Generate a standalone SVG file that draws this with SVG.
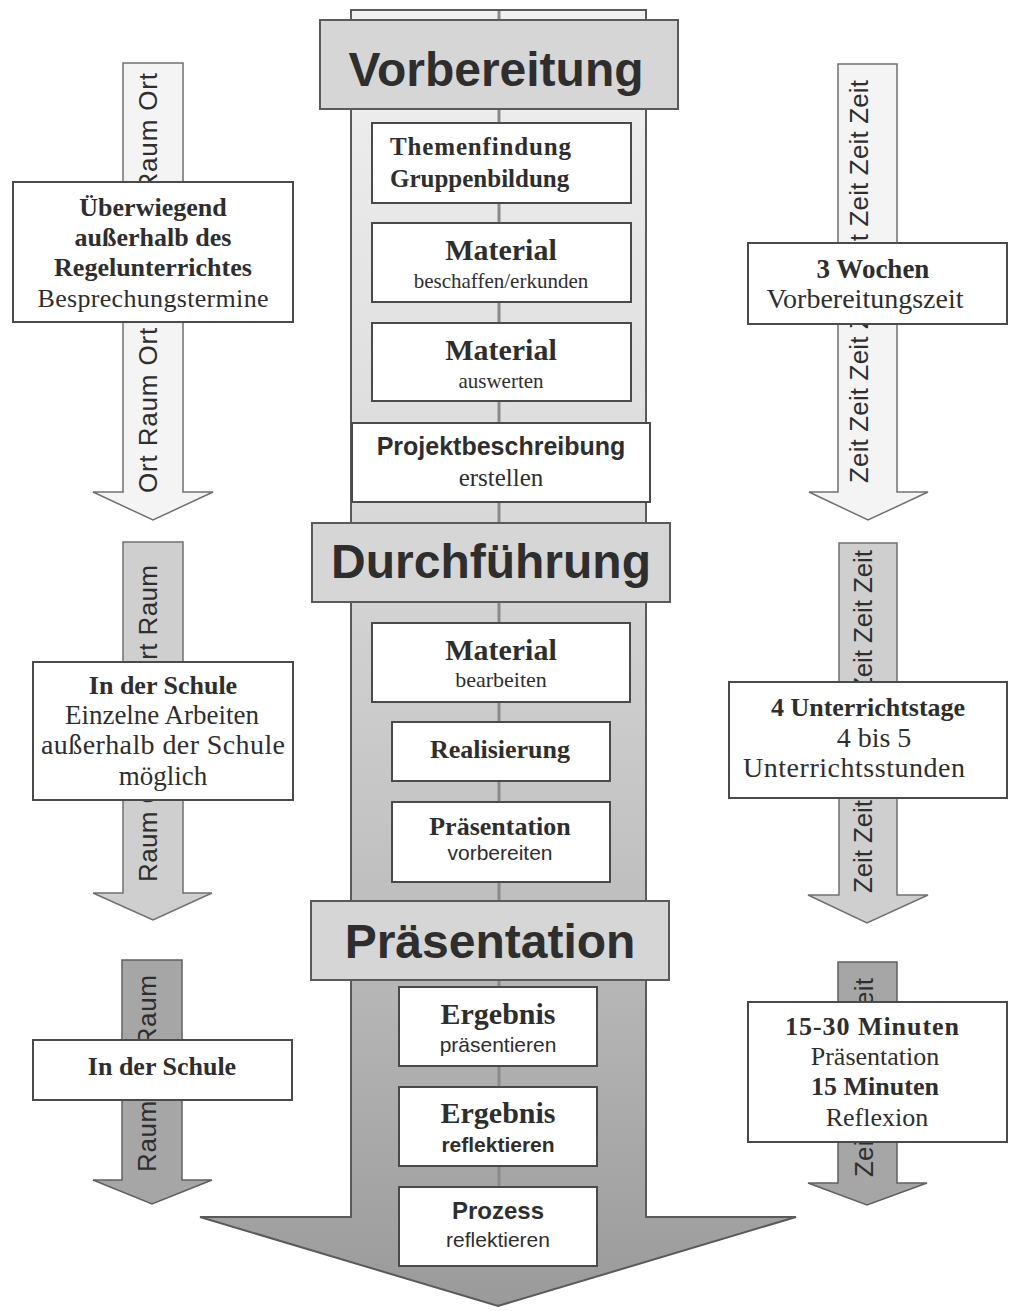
<svg xmlns="http://www.w3.org/2000/svg" width="1014" height="1311" viewBox="0 0 1014 1311">
<defs>
<linearGradient id="shaftGrad" gradientUnits="userSpaceOnUse" x1="0" y1="10" x2="0" y2="1307">
<stop offset="0" stop-color="#f1f1f1"/>
<stop offset="0.35" stop-color="#dcdcdc"/>
<stop offset="0.65" stop-color="#c2c2c2"/>
<stop offset="1" stop-color="#9a9a9a"/>
</linearGradient>
<style>
.bg{fill:#ffffff}
.shaft{fill:url(#shaftGrad);stroke:#5a5a5a;stroke-width:2}
.cline{stroke:#8a8a8a;stroke-width:3}
.hdr{fill:#d6d6d6;stroke:#5a5a5a;stroke-width:2}
.box{fill:#ffffff;stroke:#4a4a4a;stroke-width:2}
.a1{fill:#f4f4f4;stroke:#707070;stroke-width:1.5}
.a2{fill:#cfcfcf;stroke:#707070;stroke-width:1.5}
.a3{fill:#a6a6a6;stroke:#606060;stroke-width:1.5}
text{fill:#2e2e2e}
.h{font-family:"Liberation Sans",Arial,sans-serif;font-weight:bold;font-size:48px;text-anchor:middle}
.sb{font-family:"Liberation Serif","Times New Roman",serif;font-weight:bold;text-anchor:middle}
.sr{font-family:"Liberation Serif","Times New Roman",serif;text-anchor:middle}
.ab{font-family:"Liberation Sans",Arial,sans-serif;font-weight:bold;text-anchor:middle}
.ar{font-family:"Liberation Sans",Arial,sans-serif;text-anchor:middle}
.side{font-size:26px}
.rot{font-family:"Liberation Sans",Arial,sans-serif;font-size:26px}
</style>
</defs>
<rect class="bg" x="0" y="0" width="1014" height="1311"/>

<g id="connectors">
<g id="main-arrow">
<path class="shaft" d="M351,10 H646 V1217 H796 L498,1306 L200,1217 H351 Z"/>
<line class="cline" x1="499" y1="11" x2="499" y2="1188"/>
</g>
<g id="raum-arrow-1">
<path class="a1" d="M123,63 H183 V492 H213 L153,520 L93,492 H123 Z"/>
<text class="rot" transform="translate(157,493) rotate(-90)" textLength="420" lengthAdjust="spacing">Ort Raum Ort Raum Ort Raum Ort</text>
</g>
<g id="raum-arrow-2">
<path class="a2" d="M123,542 H183 V893 H212 L153,920 L93,893 H123 Z"/>
<text class="rot" transform="translate(157,882) rotate(-90)" textLength="317" lengthAdjust="spacing">Raum Ort Raum Ort Raum</text>
</g>
<g id="raum-arrow-3">
<path class="a3" d="M122,960 H182 V1180 H212 L152,1204 L93,1180 H122 Z"/>
<text class="rot" transform="translate(156,1172) rotate(-90)" textLength="197" lengthAdjust="spacing">Raum Ort Raum</text>
</g>
<g id="zeit-arrow-1">
<path class="a1" d="M838,64 H897 V492 H928 L868,520 L809,492 H838 Z"/>
<text class="rot" transform="translate(868,483) rotate(-90)" textLength="403" lengthAdjust="spacing">Zeit Zeit Zeit Zeit Zeit Zeit Zeit Zeit</text>
</g>
<g id="zeit-arrow-2">
<path class="a2" d="M839,543 H897 V895 H928 L867,923 L808,895 H839 Z"/>
<text class="rot" transform="translate(872,893) rotate(-90)" textLength="343" lengthAdjust="spacing">Zeit Zeit Zeit Zeit Zeit Zeit Zeit</text>
</g>
<g id="zeit-arrow-3">
<path class="a3" d="M838,962 H897 V1183 H927 L867,1205 L808,1183 H838 Z"/>
<text class="rot" transform="translate(873,1177) rotate(-90)" textLength="199" lengthAdjust="spacing">Zeit Zeit Zeit Zeit</text>
</g>
</g>

<g id="vorbereitung">
<rect class="hdr" x="320" y="20" width="358" height="89"/>
<text class="h" x="496" y="86">Vorbereitung</text>
</g>
<g id="themenfindung">
<rect class="box" x="372" y="123" width="259" height="80"/>
<text class="sb" x="390" y="155" font-size="25" style="text-anchor:start" textLength="181">Themenfindung</text>
<text class="sb" x="390" y="187" font-size="25" style="text-anchor:start">Gruppenbildung</text>
</g>
<g id="material-beschaffen">
<rect class="box" x="372" y="223" width="259" height="79"/>
<text class="sb" x="501" y="260" font-size="30">Material</text>
<text class="sr" x="501" y="288" font-size="21">beschaffen/erkunden</text>
</g>
<g id="material-auswerten">
<rect class="box" x="372" y="323" width="259" height="78"/>
<text class="sb" x="501" y="360" font-size="30">Material</text>
<text class="sr" x="501" y="388" font-size="21">auswerten</text>
</g>
<g id="projektbeschreibung">
<rect class="box" x="352" y="423" width="298" height="79"/>
<text class="ab" x="501" y="455" font-size="25">Projektbeschreibung</text>
<text class="sr" x="501" y="486" font-size="25">erstellen</text>
</g>
<g id="durchfuehrung">
<rect class="hdr" x="312" y="523" width="358" height="79"/>
<text class="h" x="491" y="578">Durchführung</text>
</g>
<g id="material-bearbeiten">
<rect class="box" x="372" y="623" width="258" height="79"/>
<text class="sb" x="501" y="660" font-size="30">Material</text>
<text class="sr" x="501" y="687" font-size="22">bearbeiten</text>
</g>
<g id="realisierung">
<rect class="box" x="392" y="722" width="218" height="59"/>
<text class="sb" x="500" y="758" font-size="26">Realisierung</text>
</g>
<g id="praesentation-vorbereiten">
<rect class="box" x="392" y="802" width="218" height="80"/>
<text class="sb" x="500" y="835" font-size="26">Präsentation</text>
<text class="ar" x="500" y="860" font-size="21">vorbereiten</text>
</g>
<g id="praesentation">
<rect class="hdr" x="311" y="901" width="358" height="79"/>
<text class="h" x="490" y="958">Präsentation</text>
</g>
<g id="ergebnis-praesentieren">
<rect class="box" x="399" y="987" width="198" height="79"/>
<text class="sb" x="498" y="1024" font-size="30">Ergebnis</text>
<text class="ar" x="498" y="1052" font-size="21">präsentieren</text>
</g>
<g id="ergebnis-reflektieren">
<rect class="box" x="399" y="1087" width="198" height="79"/>
<text class="sb" x="498" y="1123" font-size="30">Ergebnis</text>
<text class="ab" x="498" y="1152" font-size="21">reflektieren</text>
</g>
<g id="prozess-reflektieren">
<rect class="box" x="399" y="1187" width="198" height="79"/>
<text class="ab" x="498" y="1219" font-size="24">Prozess</text>
<text class="ar" x="498" y="1247" font-size="21">reflektieren</text>
</g>

<g id="ort-1">
<rect class="box" x="13" y="182" width="280" height="140"/>
<text class="sb side" x="153" y="216">Überwiegend</text>
<text class="sb side" x="153" y="246">außerhalb des</text>
<text class="sb side" x="153" y="276">Regelunterrichtes</text>
<text class="sr side" x="153" y="307" textLength="231">Besprechungstermine</text>
</g>
<g id="ort-2">
<rect class="box" x="33" y="662" width="260" height="138"/>
<text class="sb side" x="163" y="694">In der Schule</text>
<text class="sr" x="162" y="724" font-size="27">Einzelne Arbeiten</text>
<text class="sr" x="163" y="754" font-size="28" textLength="244">außerhalb der Schule</text>
<text class="sr" x="163" y="785" font-size="27">möglich</text>
</g>
<g id="ort-3">
<rect class="box" x="33" y="1040" width="259" height="60"/>
<text class="sb side" x="162" y="1075">In der Schule</text>
</g>
<g id="zeit-1">
<rect class="box" x="748" y="243" width="259" height="81"/>
<text class="sb" x="873" y="278" font-size="27">3 Wochen</text>
<text class="sr" x="865" y="308" font-size="28">Vorbereitungszeit</text>
</g>
<g id="zeit-2">
<rect class="box" x="729" y="682" width="278" height="116"/>
<text class="sb side" x="868" y="716">4 Unterrichtstage</text>
<text class="sr" x="874" y="747" font-size="28">4 bis 5</text>
<text class="sr" x="854" y="777" font-size="28" textLength="222">Unterrichtsstunden</text>
</g>
<g id="zeit-3">
<rect class="box" x="748" y="1002" width="259" height="140"/>
<text class="sb side" x="872" y="1035" textLength="174">15-30 Minuten</text>
<text class="sr side" x="875" y="1065">Präsentation</text>
<text class="sb side" x="875" y="1095">15 Minuten</text>
<text class="sr side" x="877" y="1126">Reflexion</text>
</g>
</svg>
